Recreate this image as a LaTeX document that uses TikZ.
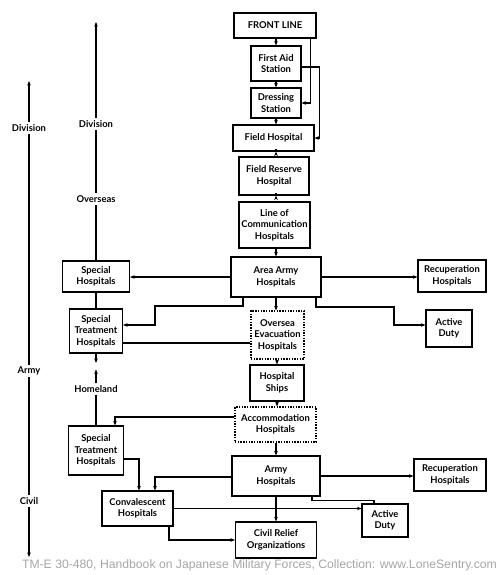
\documentclass[tikz,border=0pt]{standalone}
\usepackage{fontspec}
\setmainfont{Lato}
\newfontfamily\footfont{Liberation Sans}
\usetikzlibrary{arrows.meta}
\begin{document}
\begin{tikzpicture}
[x=1pt,y=-1pt,
line width=1.1pt,
>={Stealth[length=4.5pt,width=3.6pt]},
box/.style={draw,rectangle,align=center,inner sep=0pt,font=\fontsize{9.4}{11.5}\selectfont\bfseries},
dotbox/.style={box,dash pattern=on 1.4pt off 1.3pt},
side/.style={align=center,inner sep=1.5pt,font=\fontsize{9.4}{11.5}\selectfont\bfseries}
]
\useasboundingbox (0,0) rectangle (500,575);
% main chain
\node[box,minimum width=82pt,minimum height=25pt] (front) at (275,25.5) {FRONT LINE};
\node[box,minimum width=50pt,minimum height=35pt] (aid) at (276,63.5) {First Aid\\Station};
\node[box,minimum width=50pt,minimum height=30pt] (dress) at (276,103) {Dressing\\Station};
\node[box,minimum width=81pt,minimum height=26pt] (field) at (273.5,138) {Field Hospital};
\node[box,minimum width=70pt,minimum height=38pt] (reserve) at (274,176) {Field Reserve\\Hospital};
\node[box,minimum width=71pt,minimum height=46pt] (loc) at (274.5,225) {Line of\\Communication\\Hospitals};
\node[box,minimum width=90pt,minimum height=40pt] (area) at (276,277) {Area Army\\Hospitals};
\node[dotbox,minimum width=53pt,minimum height=48pt] (evac) at (277.5,335) {Oversea\\Evacuation\\Hospitals};
\node[box,minimum width=54pt,minimum height=36pt] (ships) at (277,383) {Hospital\\Ships};
\node[dotbox,minimum width=81pt,minimum height=35pt] (accom) at (275.5,424.5) {Accommodation\\Hospitals};
\node[box,minimum width=88pt,minimum height=40pt] (army) at (276,476) {Army\\Hospitals};
\node[box,minimum width=81pt,minimum height=36pt] (civil) at (276,540) {Civil Relief\\Organizations};
% left side
\node[box,minimum width=67pt,minimum height=31pt] (spec) at (96,276.5) {Special\\Hospitals};
\node[box,minimum width=53pt,minimum height=44pt] (treatA) at (96,331) {Special\\Treatment\\Hospitals};
\node[box,minimum width=55pt,minimum height=49pt] (treatB) at (96,450.5) {Special\\Treatment\\Hospitals};
\node[box,minimum width=71pt,minimum height=35pt] (conv) at (137.5,508.5) {Convalescent\\Hospitals};
% right side
\node[box,minimum width=68pt,minimum height=32pt] (recupA) at (452,276) {Recuperation\\Hospitals};
\node[box,minimum width=46pt,minimum height=37pt] (activeA) at (449,328.5) {Active\\Duty};
\node[box,minimum width=72pt,minimum height=32pt] (recupB) at (450,475) {Recuperation\\Hospitals};
\node[box,minimum width=46pt,minimum height=33pt] (activeB) at (385,520.5) {Active\\Duty};
% scale labels
\node[side] (divA) at (29,128) {Division};
\node[side] (armyL) at (29,371) {Army};
\node[side] (civilL) at (29,501) {Civil};
\node[side] (divB) at (96,124) {Division};
\node[side] (overseas) at (96,199) {Overseas};
\node[side] (home) at (96,389) {Homeland};
\coordinate (topA) at (29,81);
\coordinate (botA) at (29,557);
\coordinate (topB) at (96,22);
\coordinate (tipB) at (96,363);
% left scales
\draw[->] (divA) -- (topA);
\draw (divA) -- (armyL);
\draw (armyL) -- (civilL);
\draw[->] (civilL) -- (botA);
\draw[->] (divB) -- (topB);
\draw (overseas) -- (divB);
\draw (spec) -- (overseas);
\draw[->] (treatA) -- (tipB);
\draw[->] (home.north) -- ++(0,-14);
\draw (home.south) -- (home.south |- treatB.north);
% front line to field hospital
\draw[->] (front.south -| aid.north) -- (aid.north);
\draw[->] (aid) -- (dress);
\draw[->] (dress.south) -- (dress.south |- field.north);
\draw[->] (field.south -| dress.south) -- (field.south -| dress.south |- reserve.north);
\draw[->] ([xshift=-6pt]front.south east) |- (dress.east);
\draw[->] ([yshift=-3.5pt]aid.east) -- ++(18,0) |- (field.east);
\draw[->] (reserve.south -| dress.south) -- (reserve.south -| dress.south |- loc.north);
\draw[->] (loc.south -| area.north) -- (area.north);
% area army hospitals
\draw[->] (area.west) -- (area.west -| spec.east);
\draw[->] (area.east) -- (area.east -| recupA.west);
\draw[->] ([xshift=-33pt]area.south) |- (155,306) |- ([yshift=6pt]treatA.east);
\draw[->] ([xshift=40pt]area.south) |- (394,307) |- ([yshift=3.5pt]activeA.west);
\draw[->] (area.south) -- (area.south |- evac.north);
\draw ([yshift=-8pt]evac.west) -- ([yshift=-8pt]evac.west -| treatA.east);
\draw (spec) -- (treatA);
\draw[->] (evac.south -| ships.north) -- (ships.north);
\draw[->] (ships.south) -- (ships.south |- accom.north);
\draw[->] ([yshift=7.5pt]accom.west) -| ([xshift=19pt]treatB.north);
\draw[->] (accom.south -| army.north) -- (army.north);
% army hospitals
\draw[->] (army.east) -- (army.east -| recupB.west);
\draw[->] ([yshift=-1pt]army.west) -| ([xshift=17.5pt]conv.north);
\draw[->] ([yshift=-8.5pt]treatB.east) -| ([xshift=1.5pt]conv.north);
\draw ([xshift=36pt]army.south) -- ++(0,4) -| ([xshift=-11pt]activeB.north);
\draw[->] (conv.east) -- (conv.east -| activeB.west);
\draw[->] (army.south) -- (army.south |- civil.north);
\draw[->] ([xshift=31.5pt]conv.south) |- (civil.west);
% footer
\node[text=black!35,font=\footfont\fontsize{12.2}{14}\selectfont] (credit) at (259.5,565) {TM-E 30-480, Handbook on Japanese Military Forces, Collection: www.LoneSentry.com};
\end{tikzpicture}
\end{document}
